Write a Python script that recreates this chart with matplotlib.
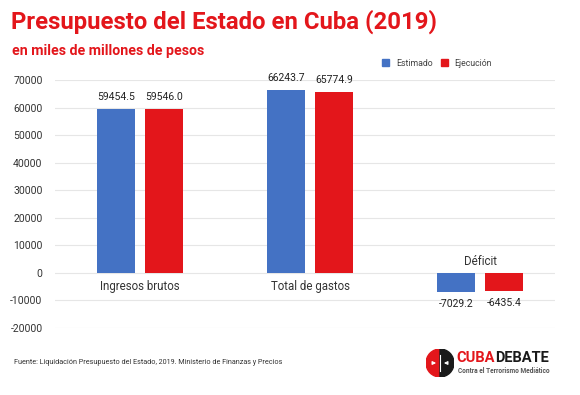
import matplotlib.pyplot as plt
import matplotlib.patches as mpatches
import numpy as np

categorias = ["Ingresos brutos", "Total de gastos", "Déficit"]
estimado = [59454.5, 66243.7, -7029.2]
ejecucion = [59546.0, 65774.9, -6435.4]
yticks = [-20000, -10000, 0, 10000, 20000, 30000, 40000, 50000, 60000, 70000]

AZUL = "#4472C4"
ROJO = "#E3161B"
FUENTE = "Roboto"

fig = plt.figure(figsize=(5.8, 3.95), dpi=100)
fig.patch.set_facecolor("white")

ax = fig.add_axes([55 / 580, 67 / 395, 500 / 580, 248 / 395])
x = np.arange(len(categorias))
w = 0.224
off = 0.141
b1 = ax.bar(x - off, estimado, w, color=AZUL, label="Estimado", zorder=3)
b2 = ax.bar(x + off, ejecucion, w, color=ROJO, label="Ejecución", zorder=3)

ax.set_xlim(-0.5, 2.44)
ax.set_ylim(-20000, 70000)
ax.set_yticks(yticks)
ax.set_yticklabels([str(t) for t in yticks], fontsize=7.5, color="#333333",
                   family=FUENTE)
ax.tick_params(axis="y", length=0, pad=9)
ax.set_xticks([])
for s in ax.spines.values():
    s.set_visible(False)
ax.grid(axis="y", color="#e6e6e6", linewidth=0.8, zorder=0)

for bars, vals in [(b1, estimado), (b2, ejecucion)]:
    for r, v in zip(bars, vals):
        cx = r.get_x() + r.get_width() / 2
        if v >= 0:
            ax.text(cx, v + 2500, f"{v:.1f}", ha="center", va="bottom",
                    fontsize=7.5, color="#222222", family=FUENTE)
        else:
            ax.text(cx, v - 2500, f"{v:.1f}", ha="center", va="top",
                    fontsize=7.5, color="#222222", family=FUENTE)

for i, c in enumerate(categorias):
    if max(estimado[i], ejecucion[i]) >= 0:
        ax.text(i, -2600, c, ha="center", va="top", fontsize=8.3,
                color="#333333", family=FUENTE)
    else:
        ax.text(i, 1800, c, ha="center", va="bottom", fontsize=8.3,
                color="#333333", family=FUENTE)

# leyenda
leg = fig.legend(handles=[mpatches.Patch(color=AZUL, label="Estimado"),
                          mpatches.Patch(color=ROJO, label="Ejecución")],
                 loc="center", bbox_to_anchor=(437 / 580, 1 - 63 / 395),
                 ncol=2, frameon=False, handlelength=0.8,
                 handleheight=0.8, columnspacing=0.9, handletextpad=0.8,
                 prop={"family": FUENTE, "size": 6.3})
for t in leg.get_texts():
    t.set_color("#444444")

# titulo
fig.text(11 / 580, 1 - 22 / 395, "Presupuesto del Estado en Cuba (2019)",
         ha="left", va="center", fontsize=17.2, fontweight="bold",
         color=ROJO, family=FUENTE)
fig.text(12 / 580, 1 - 51 / 395, "en miles de millones de pesos",
         ha="left", va="center", fontsize=10.2, fontweight="bold",
         color=ROJO, family=FUENTE)

# fuente
fig.text(14 / 580, 1 - 363 / 395,
         "Fuente: Liquidación Presupuesto del Estado, 2019. Ministerio de Finanzas y Precios",
         ha="left", va="center", fontsize=5.25, color="#333333", family=FUENTE)

# logo
lax = fig.add_axes([426 / 580, 1 - 377 / 395, 28 / 580, 28 / 395])
lax.set_xlim(-1, 1)
lax.set_ylim(-1, 1)
lax.set_aspect("equal")
lax.axis("off")
lax.add_patch(mpatches.Wedge((0, 0), 1, 90, 270, color=ROJO))
lax.add_patch(mpatches.Wedge((0, 0), 1, -90, 90, color="#1a1a1a"))
lax.plot([0, 0], [-0.6, 0.6], color="white", lw=0.8)
lax.annotate("", xy=(-0.08, 0), xytext=(-0.75, 0),
             arrowprops=dict(arrowstyle="-|>", color="white", lw=0.8,
                             mutation_scale=5))
lax.annotate("", xy=(0.08, 0), xytext=(0.75, 0),
             arrowprops=dict(arrowstyle="-|>", color="white", lw=0.8,
                             mutation_scale=5))
t1 = fig.text(456 / 580, 1 - 358 / 395, "CUBA", ha="left", va="center",
              fontsize=10.5, fontweight="bold", color=ROJO, family=FUENTE)
r = fig.canvas.get_renderer()
bb = t1.get_window_extent(r)
fig.text(bb.x1 / fig.bbox.width + 0.001, 1 - 358 / 395, "DEBATE",
         ha="left", va="center", fontsize=10.5, fontweight="bold",
         color="#1a1a1a", family=FUENTE)
fig.text(458 / 580, 1 - 371 / 395, "Contra el Terrorismo Mediático",
         ha="left", va="center", fontsize=4.7, fontweight="bold",
         color="#555555", family=FUENTE)

fig.savefig("out.png", dpi=100, facecolor="white")
